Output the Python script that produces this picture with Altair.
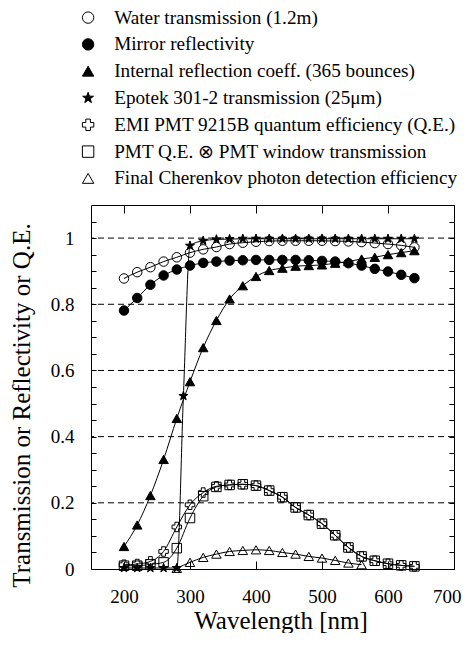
import altair as alt
import pandas as pd

# ---------------- data ----------------
wavelength = [200, 220, 240, 260, 280, 300, 320, 340, 360, 380, 400, 420,
              440, 460, 480, 500, 520, 540, 560, 580, 600, 620, 640]

water = [0.878, 0.897, 0.912, 0.929, 0.942, 0.956, 0.966, 0.973, 0.982, 0.986,
         0.989, 0.991, 0.992, 0.992, 0.992, 0.992, 0.991, 0.990, 0.988, 0.985,
         0.982, 0.978, 0.972]

mirror = [0.781, 0.819, 0.859, 0.887, 0.905, 0.917, 0.925, 0.929, 0.932, 0.933,
          0.934, 0.934, 0.934, 0.934, 0.933, 0.931, 0.929, 0.924, 0.917, 0.907,
          0.899, 0.889, 0.879]

internal = [0.068, 0.133, 0.222, 0.331, 0.455, 0.566, 0.669, 0.751, 0.816, 0.856,
            0.884, 0.902, 0.909, 0.915, 0.917, 0.919, 0.924, 0.929, 0.937, 0.942,
            0.950, 0.956, 0.962]

epotek_wl = [200, 220, 240, 260, 280, 290, 300, 320, 340, 360, 380, 400, 420,
             440, 460, 480, 500, 520, 540, 560, 580, 600, 620, 640]
epotek = [0.003, 0.003, 0.003, 0.003, 0.003, 0.523, 0.977, 0.992, 0.996, 0.997,
          0.998, 0.998, 0.998, 0.998, 0.998, 0.998, 0.998, 0.998, 0.998, 0.998,
          0.998, 0.998, 0.998, 0.998]

qe = [0.013, 0.015, 0.023, 0.053, 0.127, 0.194, 0.231, 0.250, 0.254, 0.256,
      0.252, 0.237, 0.217, 0.186, 0.163, 0.137, 0.102, 0.065, 0.038, 0.025,
      0.016, 0.011, 0.008]

pmt_window = [0.010, 0.010, 0.014, 0.020, 0.063, 0.154, 0.220, 0.248, 0.254,
              0.256, 0.252, 0.237, 0.217, 0.186, 0.163, 0.137, 0.102, 0.065,
              0.038, 0.025, 0.016, 0.011, 0.008]

final_wl = [280, 300, 320, 340, 360, 380, 400, 420, 440, 460, 480, 500, 520, 540, 560]
final = [0.002, 0.020, 0.035, 0.045, 0.053, 0.056, 0.058, 0.056, 0.050, 0.045,
         0.038, 0.033, 0.026, 0.018, 0.013]

series_names = [
    "Water transmission (1.2m)",
    "Mirror reflectivity",
    "Internal reflection coeff. (365 bounces)",
    "Epotek 301-2 transmission (25\u03bcm)",
    "EMI PMT 9215B quantum efficiency (Q.E.)",
    "PMT Q.E. \u2297 PMT window transmission",
    "Final Cherenkov photon detection efficiency",
]
STAR = ("M0,-1L0.235,-0.324L0.951,-0.309L0.38,0.124L0.588,0.809L0,0.4"
        "L-0.588,0.809L-0.38,0.124L-0.951,-0.309L-0.235,-0.324Z")
series_shapes = ["circle", "circle", "triangle-up", STAR, "cross", "square", "triangle-up"]
series_fills = ["transparent", "black", "black", "black", "transparent", "transparent", "transparent"]
series_strokes = ["black"] * 7

x_ticks = [200, 300, 400, 500, 600, 700]
y_ticks = [0, 0.05, 0.1, 0.15, 0.2, 0.25, 0.3, 0.35, 0.4, 0.45, 0.5, 0.55,
           0.6, 0.65, 0.7, 0.75, 0.8, 0.85, 0.9, 0.95, 1.0, 1.05]
grid_values = [0.2, 0.4, 0.6, 0.8, 1.0]

# ---------------- tables ----------------
series_data = [
    (series_names[0], wavelength, water),
    (series_names[1], wavelength, mirror),
    (series_names[2], wavelength, internal),
    (series_names[3], epotek_wl, epotek),
    (series_names[4], wavelength, qe),
    (series_names[5], wavelength, pmt_window),
    (series_names[6], final_wl, final),
]
rows = []
for name, xs, ys in series_data:
    for xv, yv in zip(xs, ys):
        rows.append({"series": name, "wavelength": xv, "value": yv})
df = pd.DataFrame(rows)
grid_df = pd.DataFrame({"g": grid_values})

FONT = "Liberation Serif"
xscale = alt.Scale(domain=[150, 700], nice=False, zero=False)
yscale = alt.Scale(domain=[0, 1.1], nice=False, zero=False)

grid = alt.Chart(grid_df).mark_rule(color="black", strokeDash=[6, 4], strokeWidth=1).encode(
    y=alt.Y("g:Q", scale=yscale, axis=None)
)

lines = alt.Chart(df).mark_line(color="black", strokeWidth=1, interpolate="monotone").encode(
    x=alt.X("wavelength:Q", scale=xscale,
            axis=alt.Axis(values=x_ticks, title="Wavelength [nm]", tickSize=8, offset=-8,
                          domain=False, grid=False, labelPadding=18,
                          labelFlush=True, labelFlushOffset=7,
                          titleX=189.5, titleY=67, titleBaseline="alphabetic",
                          titleAlign="center")),
    y=alt.Y("value:Q", scale=yscale,
            axis=alt.Axis(values=y_ticks, tickSize=5, offset=-5, domain=False, grid=False,
                          labelPadding=17,
                          labelExpr="abs(datum.value*5 - round(datum.value*5)) < 0.001 ? format(datum.value, '~g') : ''",
                          title="Transmission or Reflectivity or Q.E.",
                          titleX=-67, titleY=200, titleAngle=-90, titleAlign="center",
                          titleBaseline="alphabetic")),
    detail="series:N",
)

legend = alt.Legend(title=None)
points = alt.Chart(df).mark_point(filled=True, size=90, strokeWidth=1, opacity=1).encode(
    x=alt.X("wavelength:Q", scale=xscale,
            axis=alt.Axis(orient="top", values=x_ticks, labels=False, tickSize=8, offset=-8,
                          domain=False, grid=False, title=None)),
    y=alt.Y("value:Q", scale=yscale,
            axis=alt.Axis(orient="right", values=y_ticks, labels=False, tickSize=5, offset=-5,
                          domain=False, grid=False, title=None)),
    shape=alt.Shape("series:N", scale=alt.Scale(domain=series_names, range=series_shapes),
                    legend=legend),
    fill=alt.Fill("series:N", scale=alt.Scale(domain=series_names, range=series_fills),
                  legend=legend),
    stroke=alt.Stroke("series:N", scale=alt.Scale(domain=series_names, range=series_strokes),
                      legend=legend),
)

chart = alt.layer(grid, lines, points).resolve_axis(
    x="independent", y="independent"
).properties(
    width=363, height=364,
    autosize=alt.AutoSizeParams(type="none"),
    padding={"left": 83, "top": 197, "right": 8, "bottom": 64},
).configure_view(
    stroke="black", strokeWidth=1
).configure_axis(
    labelFont=FONT, labelFontSize=19, labelColor="black", tickColor="black", tickWidth=1,
    titleFont=FONT, titleFontSize=25, titleFontWeight="normal", titleColor="black",
).configure_legend(
    orient="none", legendX=-12.5, legendY=-197, padding=0,
    labelFont=FONT, labelFontSize=19.2, labelColor="black", labelLimit=400,
    symbolSize=130, symbolStrokeWidth=1,
    rowPadding=6.8, labelOffset=16.5,
)

chart.save("out.html", embed_options={"renderer": "svg", "actions": False})
